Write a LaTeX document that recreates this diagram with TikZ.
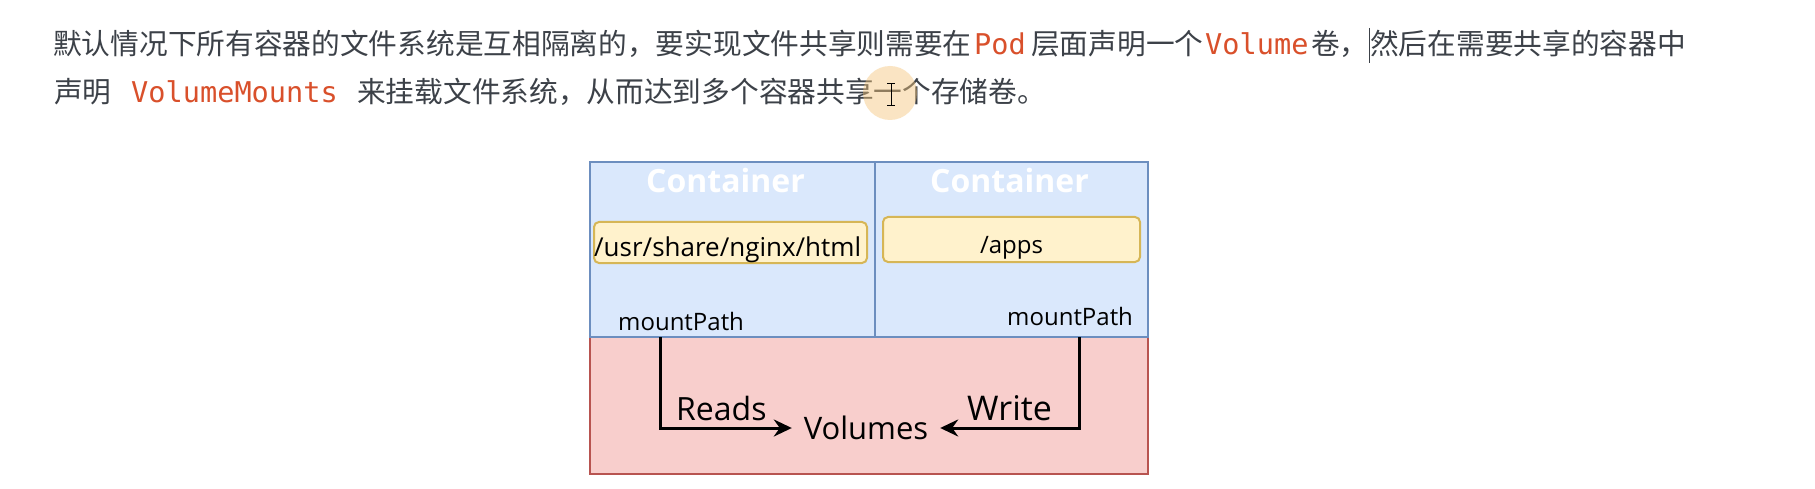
\documentclass[tikz,border=0pt]{standalone}
\usepackage{fontspec}
\usetikzlibrary{arrows.meta}
\newfontfamily\cjk{Noto Sans CJK SC}
\newfontfamily\cmono{DejaVu Sans Mono}
\newfontfamily\hand{Open Sans}
\definecolor{txt}{HTML}{3C4148}
\definecolor{code}{HTML}{D9502B}
\definecolor{bfill}{HTML}{DAE8FC}
\definecolor{bline}{HTML}{6C8EBF}
\definecolor{rfill}{HTML}{F8CECC}
\definecolor{rline}{HTML}{B85450}
\definecolor{yfill}{HTML}{FFF2CC}
\definecolor{yline}{HTML}{D6B656}
\definecolor{hilite}{HTML}{F5C57A}
\begin{document}
\begin{tikzpicture}[x=1pt,y=-1pt,
  cjkt/.style={anchor=base west, inner sep=0pt, font=\cjk\fontsize{28.7}{30}\selectfont, text=txt},
  codet/.style={anchor=base west, inner sep=0pt, font=\cmono\fontsize{28.6}{30}\selectfont, text=code},
  bluebox/.style={draw=bline, fill=bfill, line width=2pt, anchor=north west, inner sep=0pt},
  redbox/.style={draw=rline, fill=rfill, line width=2pt, anchor=north west, inner sep=0pt},
  pathbox/.style={draw=yline, fill=yfill, line width=2pt, rounded corners=5pt, inner sep=0pt},
  ctitle/.style={anchor=base, inner sep=0pt, text=white, font=\hand\bfseries\fontsize{32}{34}\selectfont},
  htext/.style={inner sep=0pt, text=black, font=\hand\fontsize{#1}{#1}\selectfont},
  arr/.style={line width=3pt, -{Stealth[length=18pt,width=17pt,inset=6pt]}}
]
\useasboundingbox (0,0) rectangle (1815,489);
\fill[white] (0,0) rectangle (1815,489);

% paragraph text
\node[cjkt] (t1) at (53,55) {默认情况下所有容器的文件系统是互相隔离的，要实现文件共享则需要在};
\node[codet] (t2) at (974,55) {Pod};
\node[cjkt] (t3) at (1031,55) {层面声明一个};
\node[codet] (t4) at (1205,55) {Volume};
\node[cjkt] (t5) at (1311,55) {卷，};
\node[cjkt] (t6) at (1370,55) {然后在需要共享的容器中};
\node[cjkt] (t7) at (54,103) {声明};
\node[codet] (t8) at (131,103) {VolumeMounts};
\node[cjkt] (t9) at (357,103) {来挂载文件系统，从而达到多个容器共享一个存储卷。};

% text cursor and mouse highlight
\draw[txt, line width=1pt] (1369,28) -- (1369,63);
\fill[hilite, opacity=0.45] (890,93) circle (27);
\draw[black, line width=1pt] (891,84) -- (891,106) (887,84) -- (895,84) (887,106) -- (895,106);

% diagram boxes
\node[redbox, minimum width=558pt, minimum height=137pt] (vbox) at (589,336) {};
\node[bluebox, minimum width=284.5pt, minimum height=175pt] (c1) at (589,161) {};
\node[bluebox, minimum width=273.5pt, minimum height=175pt] (c2) at (873.5,161) {};

\node[ctitle] (c1t) at (725.5,193) {Container};
\node[ctitle] (c2t) at (1009.5,193) {Container};

\node[pathbox, minimum width=273pt, minimum height=41pt] (p1) at (730.5,242.5) {};
\node[pathbox, minimum width=257pt, minimum height=45pt] (p2) at (1011.5,239.5) {};
\node[htext=26, anchor=base west] (p1t) at (594,256) {/usr/share/nginx/html};
\node[htext=24, anchor=base] (p2t) at (1011.5,253) {/apps};

\node[htext=24, anchor=base west] (m1t) at (618,330) {mountPath};
\node[htext=24, anchor=base west] (m2t) at (1007,325) {mountPath};

\node[htext=31, minimum width=148pt] (vol) at (866,428) {Volumes};
\node[htext=32, anchor=base west] (rd) at (676,420) {Reads};
\node[htext=34, anchor=base west] (wr) at (967,420) {Write};

\coordinate (m1) at (660,337);
\coordinate (m2) at (1079,337);
\draw[arr] (m1) |- (vol.west);
\draw[arr] (m2) |- (vol.east);
\end{tikzpicture}
\end{document}
